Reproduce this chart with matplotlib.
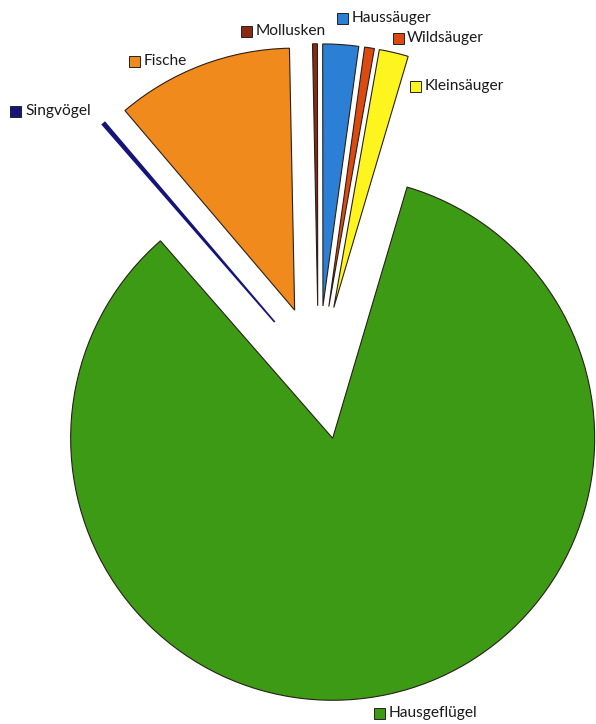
import matplotlib
matplotlib.use("Agg")
import matplotlib.pyplot as plt
from matplotlib.patches import Rectangle

# Data (percent shares), counter-clockwise order starting at the green wedge
categories = ["Hausgeflügel", "Kleinsäuger", "Wildsäuger", "Haussäuger",
              "Mollusken", "Fische", "Singvögel"]
values = [84.0, 1.8, 0.6, 2.2, 0.3, 10.9, 0.2]
colors = ["#3c9a14", "#fff51e", "#dc4a10", "#2b80d6",
          "#8a2a12", "#f08a1c", "#14147a"]

W, H = 596, 724
fig = plt.figure(figsize=(W / 100, H / 100), dpi=100)
ax = fig.add_axes([0, 0, 1, 1])
ax.set_xlim(0, W)
ax.set_ylim(0, H)
ax.set_aspect("equal")
ax.axis("off")

R = 262
cx, cy = 318.4, H - 372.8
# matplotlib's explode offset is in data units (not scaled by radius)
wedges, _ = ax.pie(values, colors=colors, explode=[67] * len(values),
                   startangle=131.1, counterclock=True, radius=R,
                   center=(cx, cy),
                   wedgeprops=dict(edgecolor="#2a1f18", linewidth=0.8))
wedges[-1].set_edgecolor("#14147a")
wedges[-1].set_linewidth(1.2)
ax.set_xlim(0, W)
ax.set_ylim(0, H)

# label layout in image pixel coordinates: (square left x, centre y, text x)
label_pos = {
    "Mollusken": (241, 31, 256),
    "Haussäuger": (337, 18, 352),
    "Wildsäuger": (393, 38, 407),
    "Kleinsäuger": (410, 86, 425),
    "Fische": (129, 61, 144),
    "Singvögel": (10, 111, 25),
    "Hausgeflügel": (374, 713, 389),
}
sq = 11
for cat, col in zip(categories, colors):
    sx, sy, tx = label_pos[cat]
    ax.add_patch(Rectangle((sx, H - sy - sq / 2), sq, sq, facecolor=col,
                           edgecolor="#222222", linewidth=0.7))
    ax.text(tx, H - sy, cat, ha="left", va="center", fontsize=11.2,
            family=["Lato", "DejaVu Sans"], color="#1a1a1a")

fig.savefig("out.png", dpi=100)
